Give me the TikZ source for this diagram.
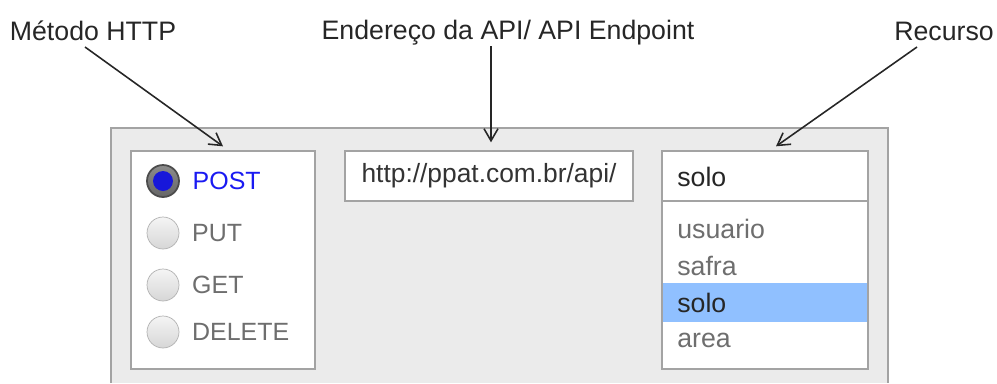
\documentclass[tikz,border=0pt]{standalone}
\usepackage{fontspec}
\setmainfont{Liberation Sans}
\usetikzlibrary{arrows.meta,positioning}

\definecolor{panelgray}{HTML}{EBEBEB}
\definecolor{framegray}{HTML}{A3A3A3}
\definecolor{itemgray}{HTML}{6E6E6E}
\definecolor{selblue}{HTML}{90C0FF}
\definecolor{postblue}{HTML}{1A1AF2}

\begin{document}
\begin{tikzpicture}[x=0.02cm,y=-0.02cm,
		label/.style={font=\fontsize{15.2}{18}\selectfont, text=black!85, inner sep=0pt, anchor=base},
		callout/.style={-{Straight Barb[length=2.4mm,width=2.8mm]}, line width=0.9pt, black!85},
		widget/.style={draw=framegray, fill=white, line width=0.8pt, inner sep=0pt},
		item/.style={font=\fontsize{15.2}{18}\selectfont, text=itemgray, anchor=west, inner sep=0pt},
		radio/.style={circle, draw=black!30, top color=black!4, bottom color=black!16, minimum size=0.64cm, inner sep=0pt}]
		\useasboundingbox (0,0) rectangle (997,383);

		% Grey form panel (runs off the bottom edge).
		\fill[panelgray] (111,128) rectangle (888,383);
		\draw[framegray, line width=0.8pt] (111,383) |- (888,128) -- (888,383);

		% HTTP METHOD
		\node[widget, minimum width=3.68cm, minimum height=4.36cm] (metbox) at (223,260) {};

		\node[radio, draw=black!70, top color=black!45, bottom color=black!60, line width=1pt] (rpost) at (163,181) {};
		\node[circle, fill=postblue!90!black, minimum size=0.4cm, inner sep=0pt] (postdot) at (rpost) {};
		\node[item, right=0.25cm of rpost, text=postblue, font=\fontsize{14.2}{17}\selectfont] (tpost) {POST};
		\foreach \y/\name/\txt in {233/put/PUT, 285/get/GET, 332/del/DELETE}{
			\node[radio] (r\name) at (163,\y) {};
			\node[item, right=0.25cm of r\name, font=\fontsize{14.2}{17}\selectfont] (t\name) {\txt};
		}

		% ENDPOINT
		\node[widget, minimum width=5.76cm, minimum height=1cm,
			font=\fontsize{15}{18}\selectfont, text=black!80] (urlbox) at (489,176) {http://ppat.com.br/api/};

		% RESOURCE (drop-down)
		\node[widget, minimum width=4.12cm, minimum height=1cm] (resbox) at (765,176) {};
		\node[item, text=black!85] (rescur) at (677,177) {solo};
		\node[widget, minimum width=4.12cm, minimum height=3.36cm] (reslist) at (765,285) {};
		\fill[selblue] (663,283) rectangle (867,322);
		\node[item] (rusuario) at (677,229) {usuario};
		\node[item] (rsafra) at (677,266) {safra};
		\node[item, text=black!85] (rsolo) at (677,303) {solo};
		\node[item] (rarea) at (677,340) {area};

		% LABELS
		\node[label] (metodo) at (93,40) {Método HTTP};
		\node[label] (endereco) at (508,39) {Endereço da API/ API Endpoint};
		\node[label] (recurso) at (944,40) {Recurso};

		\coordinate (apitip) at ([shift={(2,-8)}]urlbox.north);
		\draw[callout] ([shift={(-8,7)}]metodo.base) -- ([shift={(0,-4)}]metbox.north);
		\draw[callout] ([yshift=-0.14cm]endereco.base -| apitip) -- (apitip);
		\draw[callout] ([shift={(-27,7)}]recurso.base) -- ([shift={(11,-4)}]resbox.north);
	\end{tikzpicture}
\end{document}
